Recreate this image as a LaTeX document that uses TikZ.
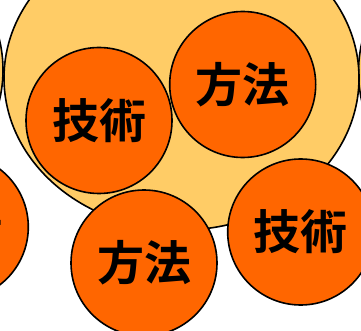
\documentclass[tikz,border=0pt]{standalone}
\usepackage{fontspec}
\newfontfamily\cjkbold{Noto Sans CJK JP Bold}
\definecolor{lightorange}{HTML}{FFCC66}
\definecolor{bubbleorange}{HTML}{FF6600}
\tikzset{
  group/.style={draw=black, line width=1.6pt, fill=lightorange},
  bubble/.style={circle, draw=black, line width=1.6pt, fill=bubbleorange,
    minimum size=146pt, inner sep=0pt, font=\cjkbold\fontsize{47}{47}\selectfont, text=black}
}
\begin{document}
\begin{tikzpicture}[x=1pt,y=-1pt]
\useasboundingbox (0,0) rectangle (361,331);
\begin{scope}
\clip (0,0) rectangle (361,331);
% neighbouring groups, barely visible at the edges
\draw[group] (-174.5,70) ellipse [x radius=177.5, y radius=152];
\draw[group] (536,72) ellipse [x radius=177.5, y radius=152];
% main group
\draw[group] (181.5,78) ellipse [x radius=177.5, y radius=152];
\node[bubble] (g1) at (99,120.5) {技術};
\node[bubble] (m1) at (242.7,84.5) {方法};
\node[bubble] (m2) at (144,263) {方法};
\node[bubble] (g2) at (300.7,232) {技術};
\node[bubble] (g0) at (-44.7,227) {技術};
\end{scope}
\end{tikzpicture}
\end{document}
